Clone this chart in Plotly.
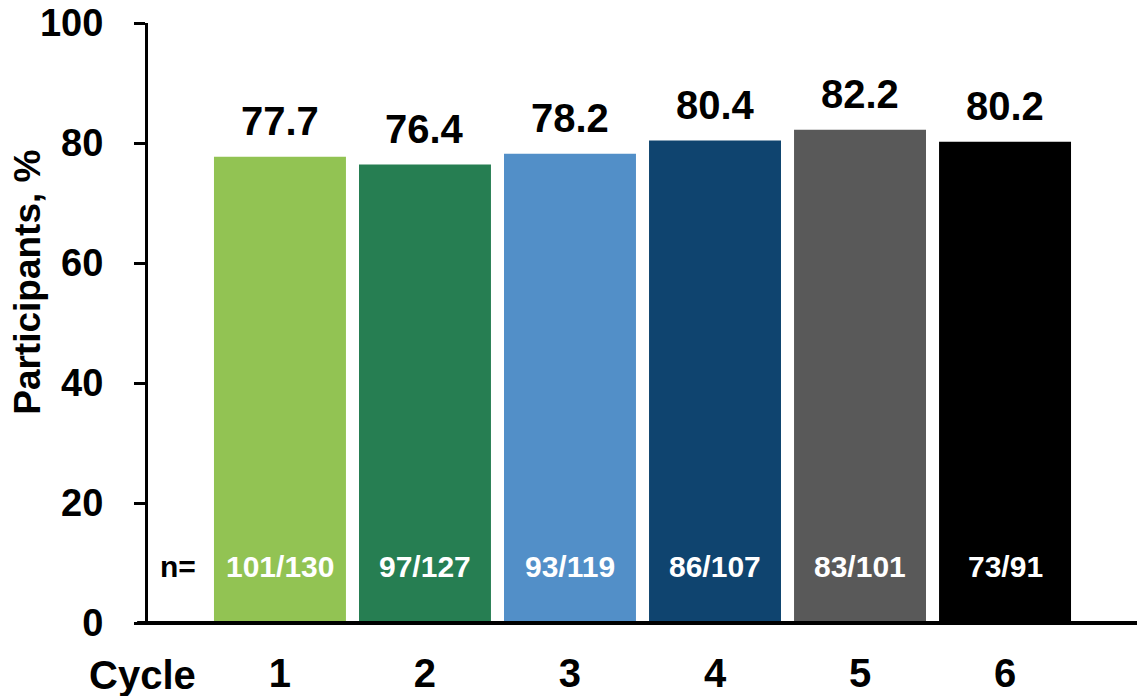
import plotly.graph_objects as go

cycles = ["1", "2", "3", "4", "5", "6"]
percent = [77.7, 76.4, 78.2, 80.4, 82.2, 80.2]
counts = ["101/130", "97/127", "93/119", "86/107", "83/101", "73/91"]
bar_colors = ["#92C353", "#267E52", "#528FC8", "#0F446F", "#595959", "#000000"]
y_ticks = [0, 20, 40, 60, 80, 100]

FONT = "Liberation Sans, Arial, sans-serif"
x_pos = list(range(len(cycles)))


def bold(size, color="black"):
    return dict(family=FONT, size=size, color=color, weight="bold")


fig = go.Figure(go.Bar(
    x=x_pos, y=percent, marker=dict(color=bar_colors, line=dict(width=0)),
    width=0.91, hoverinfo="skip",
))

annotations = []
for xi, v, c in zip(x_pos, percent, counts):
    annotations.append(dict(x=xi, y=v, text=f"{v:.1f}", showarrow=False,
                            yanchor="bottom", yshift=12, font=bold(40)))
    annotations.append(dict(x=xi, y=9.4, text=c, showarrow=False,
                            font=bold(30, "white")))
annotations.append(dict(x=-0.70, y=9.4, text="n=", showarrow=False, font=bold(30)))
annotations.append(dict(xref="paper", yref="paper", x=0, y=0, xanchor="right",
                        yanchor="middle", xshift=50, yshift=-52, text="Cycle",
                        showarrow=False, font=bold(40)))
annotations.append(dict(xref="paper", yref="paper", x=0, y=0.567, xanchor="center",
                        yanchor="middle", xshift=-120, text="Participants, %",
                        textangle=-90, showarrow=False, font=bold(37)))

fig.update_layout(
    width=1137, height=696,
    margin=dict(l=148, r=0, t=23, b=73),
    paper_bgcolor="white", plot_bgcolor="white",
    showlegend=False, bargap=0.09,
    annotations=annotations,
    font=dict(family=FONT, color="black"),
    shapes=[dict(type="line", xref="paper", yref="paper", x0=-0.011, x1=1, y0=0, y1=0,
                 line=dict(color="black", width=4))],
)
fig.update_xaxes(
    range=[-0.91, 5.91], tickvals=x_pos, ticktext=cycles, ticks="",
    showline=False, showgrid=False, zeroline=False, ticklabelstandoff=23,
    tickfont=bold(40),
)
fig.update_yaxes(
    range=[0, 100], tickvals=y_ticks, ticks="outside", ticklen=11, tickwidth=3,
    tickcolor="black", showline=True, linewidth=3, linecolor="black",
    showgrid=False, zeroline=False, ticklabelstandoff=23,
    tickfont=bold(38),
)

fig.write_html("out.html")
